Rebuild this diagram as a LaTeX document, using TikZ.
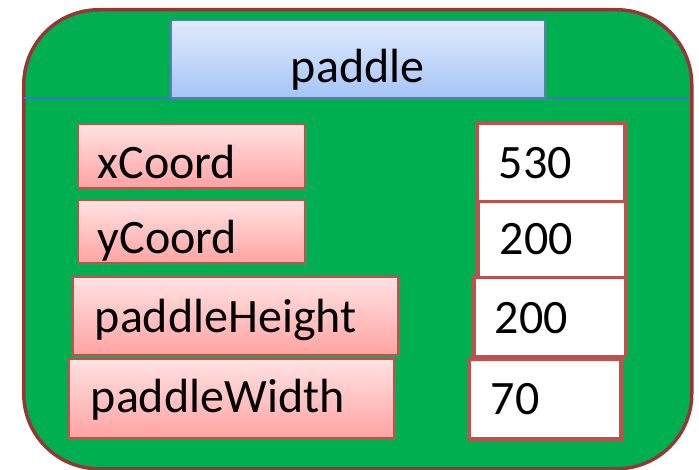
\documentclass[tikz,border=0pt]{standalone}
\usepackage{fontspec}
\setmainfont{Carlito}
\usetikzlibrary{shadows}
\definecolor{greenF}{HTML}{00B050}
\definecolor{brownB}{HTML}{953735}
\definecolor{redB}{HTML}{C0504D}
\definecolor{blueB}{HTML}{4F81BD}
\definecolor{blueL}{HTML}{4472C4}
\definecolor{blueTop}{HTML}{E0EAFD}
\definecolor{blueBot}{HTML}{A6C4F6}
\definecolor{redTop}{HTML}{FFE2E2}
\definecolor{redBot}{HTML}{FFA3A3}
\tikzset{
  x=1pt, y=-1pt,
  boxfont/.style={font=\fontsize{48}{54}\selectfont},
  namebox/.style={boxfont, draw=redB, line width=1.6pt, top color=redTop, bottom color=redBot,
    anchor=north west, align=left, inner ysep=0pt,
    drop shadow={shadow xshift=2.5pt, shadow yshift=-2.5pt, opacity=0.3}},
  valbox/.style={boxfont, draw=redB, line width=3.5pt, fill=white,
    anchor=north west, align=left, inner ysep=0pt},
}
\begin{document}
\begin{tikzpicture}
\useasboundingbox (0,0) rectangle (699,470);
\node[draw=brownB, line width=3.5pt, fill=greenF, rounded corners=75pt,
  minimum width=668pt, minimum height=459pt, anchor=north west] (outer) at (22,8) {};
\coordinate (lineL) at (23.5,98);
\coordinate (lineR) at (688.5,98);
\draw[blueL, line width=1.2pt] (lineL) -- (lineR);
\node[boxfont, draw=blueB, line width=1.5pt, top color=blueTop, bottom color=blueBot,
  anchor=north west, minimum width=374pt, minimum height=77pt, inner sep=0pt,
  text height=62pt, text depth=15pt,
  drop shadow={shadow xshift=2.5pt, shadow yshift=-2.5pt, opacity=0.3}] (title) at (170,20) {paddle};
% names
\node[namebox, minimum height=64pt, text height=55pt, text depth=9pt, inner xsep=20pt, text width=187pt] (xc) at (77,123) {xCoord};
\node[namebox, minimum height=63pt, text height=54pt, text depth=9pt, inner xsep=20pt, text width=187pt] (yc) at (77,199) {yCoord};
\node[namebox, minimum height=78pt, text height=56pt, text depth=22pt, inner xsep=22pt, text width=281pt] (ph) at (72,276) {paddleHeight};
\node[namebox, minimum height=79pt, text height=54pt, text depth=25pt, inner xsep=22pt, text width=281pt] (pw) at (68,358) {paddleWidth};
% values
\node[valbox, minimum height=78pt, text height=55pt, text depth=23pt, inner xsep=22pt, text width=104pt] (vx) at (475,122) {530};
\node[valbox, minimum height=76pt, text height=53pt, text depth=23pt, inner xsep=22pt, text width=104pt] (vy) at (476,200) {200};
\node[valbox, minimum height=79pt, text height=56pt, text depth=23pt, inner xsep=21pt, text width=110pt] (vh) at (472,276) {200};
\node[valbox, minimum height=79pt, text height=55pt, text depth=24pt, inner xsep=22pt, text width=108pt] (vw) at (467,358) {70};
\end{tikzpicture}
\end{document}
